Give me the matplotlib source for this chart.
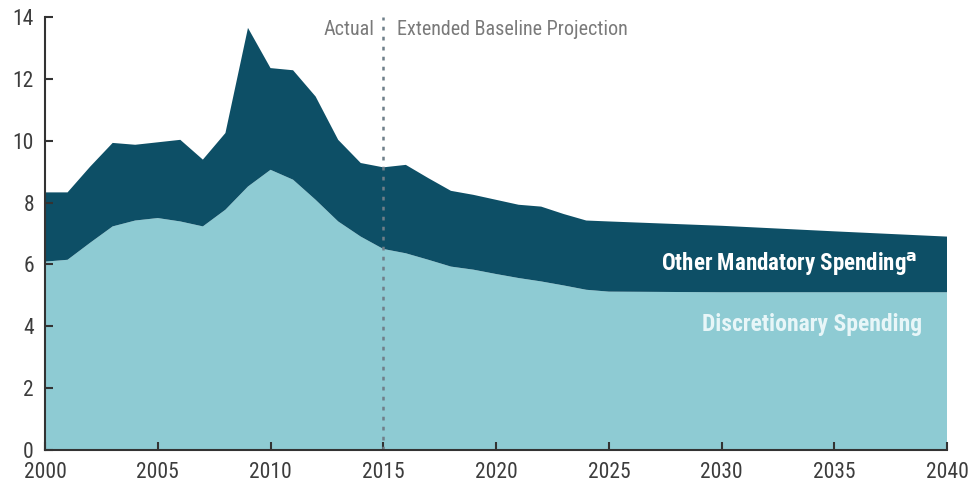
import matplotlib
matplotlib.use("Agg")
import matplotlib.pyplot as plt
from matplotlib import font_manager as fm

years = [2000, 2001, 2002, 2003, 2004, 2005, 2006, 2007, 2008, 2009, 2010,
         2011, 2012, 2013, 2014, 2015, 2016, 2017, 2018, 2019, 2020,
         2021, 2022, 2023, 2024, 2025, 2030, 2035, 2040]
discretionary = [6.09, 6.15, 6.7, 7.23, 7.42, 7.5, 7.39, 7.23, 7.77, 8.52, 9.06,
                 8.74, 8.09, 7.39, 6.9, 6.5, 6.36, 6.15, 5.93, 5.83, 5.69,
                 5.56, 5.45, 5.32, 5.18, 5.12, 5.1, 5.1, 5.1]
total = [8.33, 8.33, 9.16, 9.93, 9.87, 9.95, 10.03, 9.39, 10.25, 13.65, 12.35,
         12.28, 11.43, 10.03, 9.28, 9.14, 9.22, 8.79, 8.38, 8.25, 8.09,
         7.93, 7.87, 7.63, 7.42, 7.39, 7.25, 7.07, 6.9]
other_mandatory = [t - d for t, d in zip(total, discretionary)]

x_ticks = [2000, 2005, 2010, 2015, 2020, 2025, 2030, 2035, 2040]
y_ticks = [0, 2, 4, 6, 8, 10, 12, 14]

dark = "#0d4f66"
light = "#8ecbd3"
txt = "#3c3c3c"

# pick a condensed font if one is installed
names = {f.name for f in fm.fontManager.ttflist}
cond = [f for f in fm.fontManager.ttflist
        if ("Condensed" in f.name or "Narrow" in f.name
            or str(f.stretch) in ("condensed", "semi-condensed", "extra-condensed", "600", "700"))]
STRETCH = "normal"
FAMILY = "DejaVu Sans"
for cand in ["Roboto Condensed", "Liberation Sans Narrow", "Open Sans Condensed",
             "DejaVu Sans Condensed", "Noto Sans Condensed"]:
    if cand in names:
        FAMILY = cand
        break
else:
    for f in cond:
        if f.name.startswith("DejaVu Sans") and "Mono" not in f.name:
            FAMILY = f.name
            STRETCH = "condensed"
            break
    else:
        if cond:
            FAMILY = cond[0].name
            STRETCH = "condensed"
FONT = [FAMILY, "DejaVu Sans"]
plt.rcParams["font.family"] = FONT
plt.rcParams["font.stretch"] = STRETCH

fig = plt.figure(figsize=(9.7, 4.88), dpi=100)
ax = fig.add_axes([0.0464, 0.078, 0.930, 0.887])

ax.stackplot(years, discretionary, other_mandatory, colors=[light, dark], linewidth=0)

ax.set_xlim(2000, 2040)
ax.set_ylim(0, 14)
ax.set_xticks(x_ticks)
ax.set_yticks(y_ticks)
ax.tick_params(direction="in", length=6, width=1.5, color="#333333",
               labelsize=15.5, labelcolor=txt)
ax.tick_params(axis="x", pad=9)
ax.tick_params(axis="y", pad=8)
for s in ["top", "right"]:
    ax.spines[s].set_visible(False)
for s in ["left", "bottom"]:
    ax.spines[s].set_color("#333333")
    ax.spines[s].set_linewidth(1.5)

ax.axvline(2015, ymin=0, ymax=1.0, color="#6f7f89", linestyle=(0, (1.5, 2.5)),
           linewidth=1.8)

ax.text(2014.6, 13.6, "Actual", ha="right", va="center", fontsize=14.5,
        color="#7a7a7a")
ax.text(2015.6, 13.6, "Extended Baseline Projection", ha="left", va="center",
        fontsize=14.5, color="#7a7a7a")

ax.text(2038.7, 6.0, r"Other Mandatory Spending$^{\mathbf{a}}$", ha="right",
        va="center", fontsize=16.5, color="white", fontweight="bold")
ax.text(2038.9, 4.05, "Discretionary Spending", ha="right", va="center",
        fontsize=17, color="#e8f6f8", fontweight="bold")

fig.savefig("out.png", dpi=100)
